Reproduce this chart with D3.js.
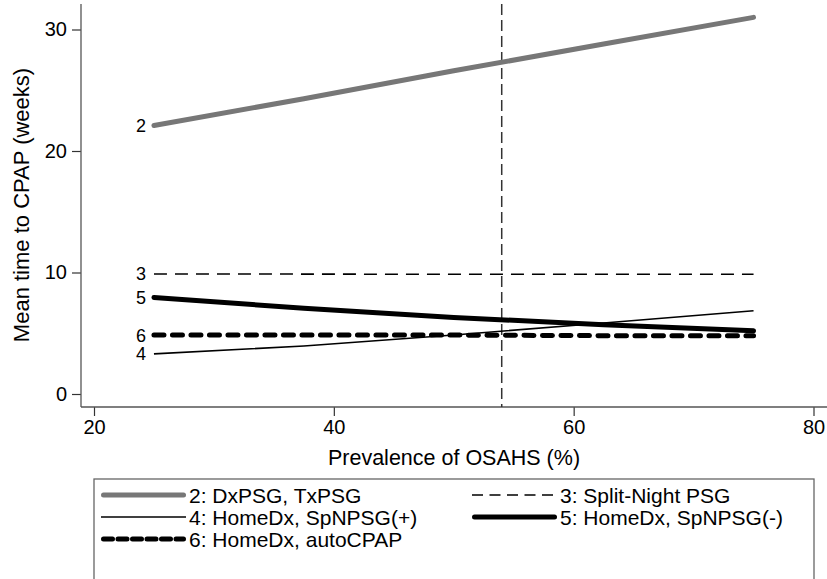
<!DOCTYPE html>
<html><head><meta charset="utf-8">
<script src="https://cdn.jsdelivr.net/npm/d3@7"></script>
<style>
html,body{margin:0;padding:0;background:#fff;}
svg{display:block;}
text{font-family:"Liberation Sans",Arial,sans-serif;fill:#000;}
</style></head>
<body>
<svg id="c" width="827" height="579"></svg>
<script>
const prevalence = [25, 37.5, 50, 62.5, 75];
const seriesIds = ["2", "3", "4", "5", "6"];
const seriesNames = ["2: DxPSG, TxPSG", "3: Split-Night PSG", "4: HomeDx, SpNPSG(+)", "5: HomeDx, SpNPSG(-)", "6: HomeDx, autoCPAP"];
const s2 = [22.1, 24.3, 26.6, 28.8, 31.0];
const s3 = [9.88, 9.87, 9.85, 9.85, 9.85];
const s4 = [3.3, 3.95, 4.85, 5.85, 6.85];
const s5 = [7.95, 7.05, 6.3, 5.7, 5.2];
const s6 = [4.85, 4.85, 4.85, 4.8, 4.8];
const xTicks = [20, 40, 60, 80];
const yTicks = [0, 10, 20, 30];
const refLine = 54;
const xTitle = "Prevalence of OSAHS (%)";
const yTitle = "Mean time to CPAP (weeks)";

const styles = {
  "2": {color:"#777777", width:5, dash:null, cap:"round"},
  "3": {color:"#000", width:1.6, dash:"13,8", cap:"butt"},
  "4": {color:"#000", width:1.6, dash:null, cap:"butt"},
  "5": {color:"#000", width:5, dash:null, cap:"round"},
  "6": {color:"#000", width:5, dash:"10,8.5", cap:"round"}
};
const values = {"2":s2,"3":s3,"4":s4,"5":s5,"6":s6};
const FONT = "Liberation Sans, Arial, sans-serif";

const svg = d3.select("#c");
const x = d3.scaleLinear().domain([20,80]).range([94,813.5]);
const y = d3.scaleLinear().domain([0,30]).range([394,29.5]);
const axisX0 = 81, axisY0 = 407;

// axes
const gx = svg.append("g").attr("transform",`translate(0,${axisY0})`)
  .call(d3.axisBottom(x).tickValues(xTicks).tickSize(9).tickPadding(4).tickFormat(d3.format("d")));
gx.select(".domain").remove();
gx.selectAll(".tick line").attr("stroke","#333").attr("stroke-width",1.2);
gx.selectAll(".tick text").attr("font-size",20).attr("font-family",FONT).attr("fill","#000");
svg.append("line").attr("x1",axisX0).attr("x2",827).attr("y1",axisY0).attr("y2",axisY0).attr("stroke","#555").attr("stroke-width",1.3);

const gy = svg.append("g").attr("transform",`translate(${axisX0},0)`)
  .call(d3.axisLeft(y).tickValues(yTicks).tickSize(9).tickPadding(5).tickFormat(d3.format("d")));
gy.select(".domain").remove();
gy.selectAll(".tick line").attr("stroke","#333").attr("stroke-width",1.2);
gy.selectAll(".tick text").attr("font-size",20).attr("font-family",FONT).attr("fill","#000");
svg.append("line").attr("x1",axisX0).attr("x2",axisX0).attr("y1",4).attr("y2",axisY0).attr("stroke","#555").attr("stroke-width",1.3);

// titles
svg.append("text").attr("x",454).attr("y",465).attr("text-anchor","middle").attr("font-size",21.5).text(xTitle);
svg.append("text").attr("transform","translate(29,205) rotate(-90)").attr("text-anchor","middle").attr("font-size",22).text(yTitle);

// reference line
svg.append("line").attr("x1",x(refLine)).attr("x2",x(refLine)).attr("y1",4).attr("y2",axisY0)
  .attr("stroke","#333").attr("stroke-width",1.5).attr("stroke-dasharray","11,5");

// series
const line = d3.line().x((d,i)=>x(prevalence[i])).y(d=>y(d));
const order = ["3","4","6","5","2"];
order.forEach(id=>{
  const st = styles[id];
  const p = svg.append("path").attr("d",line(values[id])).attr("fill","none")
    .attr("stroke",st.color).attr("stroke-width",st.width).attr("stroke-linecap",st.cap).attr("stroke-linejoin","round");
  if(st.dash) p.attr("stroke-dasharray",st.dash);
});
seriesIds.forEach(id=>{
  svg.append("text").attr("x",x(prevalence[0])-8).attr("y",y(values[id][0])).attr("dy","0.36em")
    .attr("text-anchor","end").attr("font-size",18).text(id);
});

// legend
svg.append("rect").attr("x",94).attr("y",479).attr("width",720).attr("height",130)
  .attr("fill","#fff").attr("stroke","#666").attr("stroke-width",1.3);
const legPos = [[101,495],[472,495],[101,517],[472,517],[101,539]];
seriesIds.forEach((id,i)=>{
  const [lx,ly] = legPos[i];
  const st = styles[id];
  const capPad = st.cap==="round" ? st.width/2 : 0;
  const l = svg.append("line").attr("x1",lx+capPad).attr("x2",lx+85-capPad).attr("y1",ly).attr("y2",ly)
    .attr("stroke",st.color).attr("stroke-width",st.width).attr("stroke-linecap",st.cap);
  if(st.dash) l.attr("stroke-dasharray", id==="3" ? "11,6.5" : "9,5.5");
  svg.append("text").attr("x",lx+88).attr("y",ly).attr("dy","0.36em").attr("font-size",21).text(seriesNames[i]);
});
</script>
</body></html>
